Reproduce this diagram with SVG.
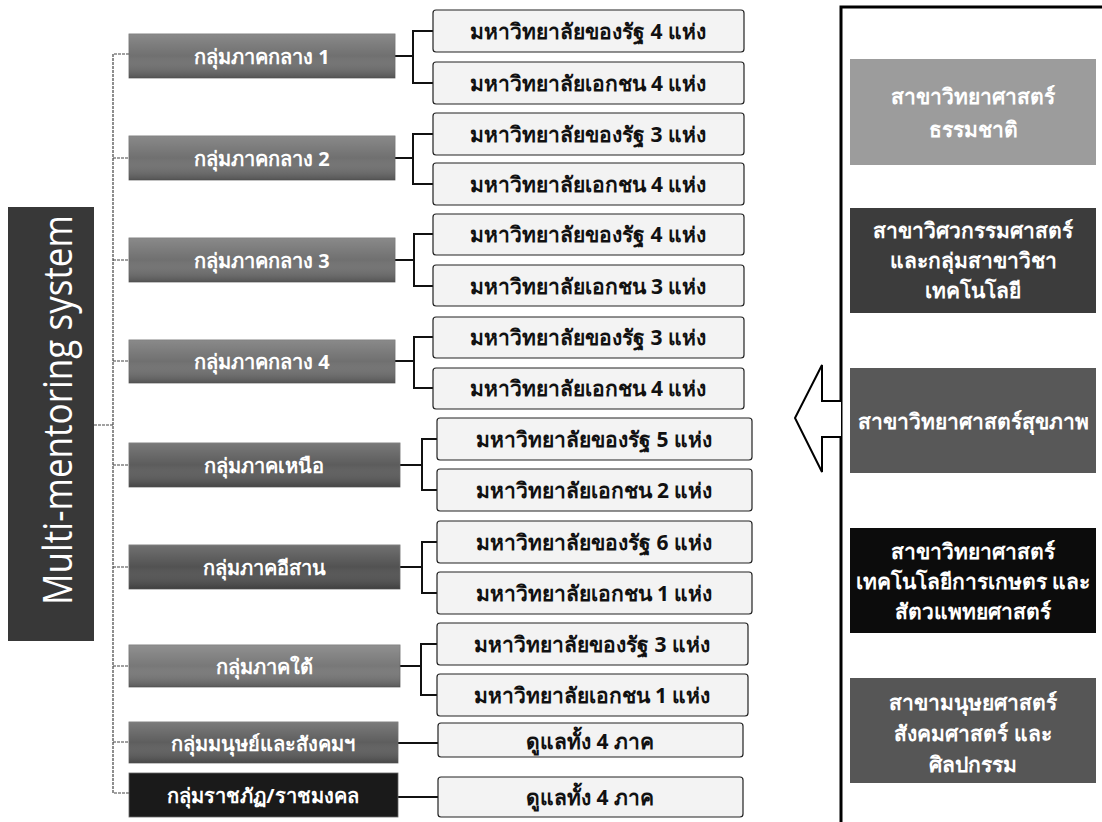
<svg xmlns="http://www.w3.org/2000/svg" width="1102" height="822" viewBox="0 0 1102 822">
<defs>
<linearGradient id="shade" x1="0" y1="0" x2="0" y2="1">
<stop offset="0" stop-color="#ffffff" stop-opacity="0.18"/>
<stop offset="0.5" stop-color="#ffffff" stop-opacity="0"/>
<stop offset="1" stop-color="#000000" stop-opacity="0.25"/>
</linearGradient>
<style>
.grp{stroke:#666;stroke-width:0.8}
.gt{font-family:"Noto Sans",sans-serif;font-weight:bold;font-size:20px;fill:#fff;text-anchor:middle;dominant-baseline:central}
.uni{fill:#f3f3f3;stroke:#222;stroke-width:1.2}
.ut{font-family:"Noto Sans",sans-serif;font-weight:bold;font-size:21px;fill:#111;text-anchor:middle;dominant-baseline:central}
.rt{font-family:"Noto Sans",sans-serif;font-weight:bold;font-size:21px;fill:#fff;text-anchor:middle;dominant-baseline:central}
.br{fill:none;stroke:#111;stroke-width:2}
.dl{fill:none;stroke:#444;stroke-width:1.2;stroke-dasharray:3 1}
</style>
</defs>
<rect width="1102" height="822" fill="#fff"/>

<g id="label">
<rect x="8" y="207" width="86" height="434" fill="#383838"/>
<text transform="translate(72,410) rotate(-90)" font-family="Open Sans,sans-serif" font-weight="400" font-size="40" fill="#fff" text-anchor="middle" textLength="390" lengthAdjust="spacingAndGlyphs">Multi-mentoring system</text>
</g>

<g id="connectors">
<path class="dl" d="M94,425 H113 M129,54 H113 V793 H129 M113,158 H129 M113,260 H129 M113,361 H129 M113,465 H129 M113,567 H129 M113,666 H129 M113,742 H129"/>
<path class="br" d="M395,56 H413 M433,31 H413 V83 H433"/>
<path class="br" d="M395,158 H413 M433,134 H413 V184 H433"/>
<path class="br" d="M395,260 H414 M433,234 H414 V286 H433"/>
<path class="br" d="M395,361 H414 M433,337 H414 V388 H433"/>
<path class="br" d="M400,465 H422 M437,439 H422 V490 H437"/>
<path class="br" d="M400,567 H422 M437,542 H422 V593 H437"/>
<path class="br" d="M400,666 H421 M437,644 H421 V695 H437"/>
<path class="br" d="M398,743 H438"/>
<path class="br" d="M398,797 H438"/>
</g>

<g id="g1"><rect class="grp" x="129" y="34" width="266" height="44" fill="#707070"/><rect x="129" y="34" width="266" height="44" fill="url(#shade)"/><text class="gt" x="262" y="56">กลุ่มภาคกลาง 1</text></g>
<g id="g2"><rect class="grp" x="129" y="136" width="266" height="44" fill="#707070"/><rect x="129" y="136" width="266" height="44" fill="url(#shade)"/><text class="gt" x="262" y="158">กลุ่มภาคกลาง 2</text></g>
<g id="g3"><rect class="grp" x="129" y="238" width="266" height="44" fill="#707070"/><rect x="129" y="238" width="266" height="44" fill="url(#shade)"/><text class="gt" x="262" y="260">กลุ่มภาคกลาง 3</text></g>
<g id="g4"><rect class="grp" x="129" y="340" width="266" height="43" fill="#707070"/><rect x="129" y="340" width="266" height="43" fill="url(#shade)"/><text class="gt" x="262" y="361">กลุ่มภาคกลาง 4</text></g>
<g id="g5"><rect class="grp" x="129" y="443" width="271" height="44" fill="#5c5c5c"/><rect x="129" y="443" width="271" height="44" fill="url(#shade)"/><text class="gt" x="264" y="465">กลุ่มภาคเหนือ</text></g>
<g id="g6"><rect class="grp" x="129" y="545" width="271" height="44" fill="#525252"/><rect x="129" y="545" width="271" height="44" fill="url(#shade)"/><text class="gt" x="264" y="567">กลุ่มภาคอีสาน</text></g>
<g id="g7"><rect class="grp" x="129" y="645" width="271" height="42" fill="#787878"/><rect x="129" y="645" width="271" height="42" fill="url(#shade)"/><text class="gt" x="264" y="666">กลุ่มภาคใต้</text></g>
<g id="g8"><rect class="grp" x="129" y="722" width="269" height="41" fill="#5e5e5e"/><rect x="129" y="722" width="269" height="41" fill="url(#shade)"/><text class="gt" x="263" y="743">กลุ่มมนุษย์และสังคมฯ</text></g>
<g id="g9"><rect class="grp" x="129" y="773" width="269" height="44" fill="#1a1a1a"/><text class="gt" x="263" y="795">กลุ่มราชภัฏ/ราชมงคล</text></g>

<g id="u1a"><rect class="uni" x="433" y="10" width="311" height="42" rx="3"/><text class="ut" x="588" y="31">มหาวิทยาลัยของรัฐ 4 แห่ง</text></g>
<g id="u1b"><rect class="uni" x="433" y="62" width="311" height="42" rx="3"/><text class="ut" x="588" y="83">มหาวิทยาลัยเอกชน 4 แห่ง</text></g>
<g id="u2a"><rect class="uni" x="433" y="113" width="311" height="42" rx="3"/><text class="ut" x="588" y="134">มหาวิทยาลัยของรัฐ 3 แห่ง</text></g>
<g id="u2b"><rect class="uni" x="433" y="163" width="311" height="42" rx="3"/><text class="ut" x="588" y="184">มหาวิทยาลัยเอกชน 4 แห่ง</text></g>
<g id="u3a"><rect class="uni" x="433" y="214" width="311" height="41" rx="3"/><text class="ut" x="588" y="234">มหาวิทยาลัยของรัฐ 4 แห่ง</text></g>
<g id="u3b"><rect class="uni" x="433" y="265" width="311" height="41" rx="3"/><text class="ut" x="588" y="286">มหาวิทยาลัยเอกชน 3 แห่ง</text></g>
<g id="u4a"><rect class="uni" x="433" y="317" width="311" height="41" rx="3"/><text class="ut" x="588" y="337">มหาวิทยาลัยของรัฐ 3 แห่ง</text></g>
<g id="u4b"><rect class="uni" x="433" y="368" width="311" height="41" rx="3"/><text class="ut" x="588" y="388">มหาวิทยาลัยเอกชน 4 แห่ง</text></g>
<g id="u5a"><rect class="uni" x="437" y="418" width="315" height="42" rx="3"/><text class="ut" x="594" y="439">มหาวิทยาลัยของรัฐ 5 แห่ง</text></g>
<g id="u5b"><rect class="uni" x="437" y="469" width="315" height="42" rx="3"/><text class="ut" x="594" y="490">มหาวิทยาลัยเอกชน 2 แห่ง</text></g>
<g id="u6a"><rect class="uni" x="437" y="521" width="315" height="42" rx="3"/><text class="ut" x="594" y="542">มหาวิทยาลัยของรัฐ 6 แห่ง</text></g>
<g id="u6b"><rect class="uni" x="437" y="572" width="315" height="42" rx="3"/><text class="ut" x="594" y="593">มหาวิทยาลัยเอกชน 1 แห่ง</text></g>
<g id="u7a"><rect class="uni" x="437" y="623" width="311" height="42" rx="3"/><text class="ut" x="592" y="644">มหาวิทยาลัยของรัฐ 3 แห่ง</text></g>
<g id="u7b"><rect class="uni" x="437" y="674" width="311" height="42" rx="3"/><text class="ut" x="592" y="695">มหาวิทยาลัยเอกชน 1 แห่ง</text></g>
<g id="u8"><rect class="uni" x="438" y="723" width="305" height="34" rx="3"/><text class="ut" x="590" y="741">ดูแลทั้ง 4 ภาค</text></g>
<g id="u9"><rect class="uni" x="438" y="777" width="305" height="40" rx="3"/><text class="ut" x="590" y="797">ดูแลทั้ง 4 ภาค</text></g>

<g id="panel">
<path d="M841,822 V7 H1102" fill="none" stroke="#000" stroke-width="3"/>
</g>
<g id="arrow">
<path d="M841,401 H822 V365 L795,418 L822,472 V437 H841" fill="#fff" stroke="#000" stroke-width="2" stroke-linejoin="miter"/>
</g>

<g id="r1"><rect x="850" y="59" width="246" height="106" fill="#9c9c9c"/><text class="rt" x="973" y="96">สาขาวิทยาศาสตร์</text><text class="rt" x="973" y="129">ธรรมชาติ</text></g>
<g id="r2"><rect x="850" y="208" width="246" height="105" fill="#3c3c3c"/><text class="rt" x="973" y="230">สาขาวิศวกรรมศาสตร์</text><text class="rt" x="973" y="260">และกลุ่มสาขาวิชา</text><text class="rt" x="973" y="290">เทคโนโลยี</text></g>
<g id="r3"><rect x="850" y="368" width="246" height="105" fill="#585858"/><text class="rt" x="973" y="421">สาขาวิทยาศาสตร์สุขภาพ</text></g>
<g id="r4"><rect x="850" y="528" width="246" height="105" fill="#0c0c0c"/><text class="rt" x="973" y="551">สาขาวิทยาศาสตร์</text><text class="rt" x="973" y="581">เทคโนโลยีการเกษตร และ</text><text class="rt" x="973" y="611">สัตวแพทยศาสตร์</text></g>
<g id="r5"><rect x="850" y="678" width="246" height="105" fill="#565656"/><text class="rt" x="973" y="702">สาขามนุษยศาสตร์</text><text class="rt" x="973" y="733">สังคมศาสตร์ และ</text><text class="rt" x="973" y="764">ศิลปกรรม</text></g>
</svg>
